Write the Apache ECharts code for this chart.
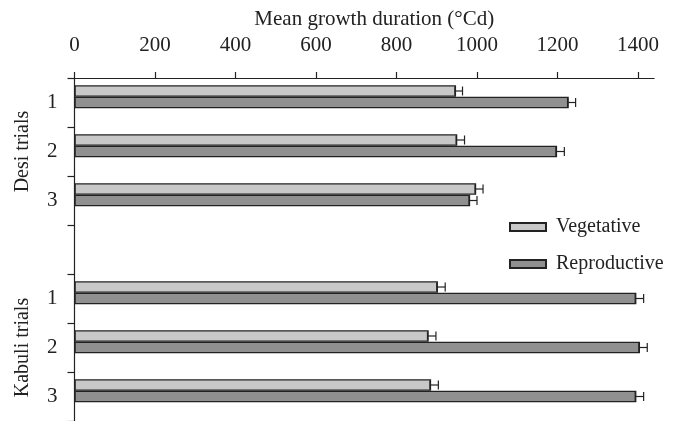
<!DOCTYPE html>
<html>
<head>
<meta charset="utf-8">
<script src="https://cdn.jsdelivr.net/npm/echarts@6/dist/echarts.min.js"></script>
<style>
html,body{margin:0;padding:0;background:#fff;}
#chart{width:675px;height:421px;}
</style>
</head>
<body>
<div id="chart"></div>
<script>
// ---- data ----
var trialLabels = ['1', '2', '3', '', '1', '2', '3'];
var groupLabels = ['', 'Desi trials', '', '', '', 'Kabuli trials', ''];
var xTicks = [0, 200, 400, 600, 800, 1000, 1200, 1400];
var vegetative   = [948, 951, 998, null, 903, 880, 886];
var reproductive = [1228, 1199, 983, null, 1396, 1405, 1396];
var vegErrLow  = [3, 3, 3, null, 3, 3, 3];
var vegErrHigh = [16, 18, 17, null, 18, 18, 18];
var repErrLow  = [3, 3, 3, null, 3, 3, 3];
var repErrHigh = [17, 18, 17, null, 18, 18, 18];

var FONT = 'Liberation Serif';
var INK = '#222';
var BAR_W = 11.5;

function errData(vals, lo, hi) {
  var out = [];
  for (var i = 0; i < vals.length; i++) {
    if (vals[i] == null) continue;
    out.push([i, vals[i] - lo[i], vals[i] + hi[i]]);
  }
  return out;
}
function errRender(offset) {
  return function (params, api) {
    var cat = api.value(0), lo = api.value(1), hi = api.value(2);
    var p1 = api.coord([lo, cat]);
    var p2 = api.coord([hi, cat]);
    var y = p1[1] + offset;
    var h = 4.5;
    var st = { stroke: INK, lineWidth: 1.2 };
    return {
      type: 'group',
      children: [
        { type: 'line', shape: { x1: p1[0], y1: y, x2: p2[0], y2: y }, style: st },
        { type: 'line', shape: { x1: p1[0], y1: y - h, x2: p1[0], y2: y + h }, style: st },
        { type: 'line', shape: { x1: p2[0], y1: y - h, x2: p2[0], y2: y + h }, style: st }
      ]
    };
  };
}

var chart = echarts.init(document.getElementById('chart'), null, { renderer: 'canvas' });
chart.setOption({
  animation: false,
  backgroundColor: '#fff',
  textStyle: { fontFamily: FONT, color: INK },
  grid: { left: 74.5, top: 78, width: 579.6, height: 344 },
  legend: {
    orient: 'vertical',
    left: 504,
    top: 212,
    itemWidth: 36,
    itemHeight: 8,
    itemGap: 17,
    icon: 'rect',
    data: ['Vegetative', 'Reproductive'],
    textStyle: { fontFamily: FONT, fontSize: 20, color: INK, padding: [0, 0, 0, 5] }
  },
  xAxis: {
    type: 'value',
    position: 'top',
    min: 0,
    max: 1440,
    interval: 200,
    name: 'Mean growth duration (°Cd)',
    nameLocation: 'middle',
    nameGap: 47,
    nameTextStyle: { fontFamily: FONT, fontSize: 21, color: INK, padding: [0, 0, 0, 20] },
    axisLine: { show: true, lineStyle: { color: INK, width: 1.2 } },
    axisTick: { show: true, length: 6, lineStyle: { color: INK, width: 1.2 }, customValues: xTicks },
    axisLabel: {
      fontFamily: FONT, fontSize: 21, color: INK, margin: 22, customValues: xTicks,
      formatter: function (v) { return String(v); }
    },
    splitLine: { show: false }
  },
  yAxis: [
    {
      type: 'category',
      inverse: true,
      data: trialLabels,
      axisLine: { show: true, lineStyle: { color: INK, width: 1.2 } },
      axisTick: { show: true, length: 7, lineStyle: { color: INK, width: 1.2 } },
      axisLabel: { fontFamily: FONT, fontSize: 21, color: INK, margin: 17, interval: 0 }
    },
    {
      type: 'category',
      inverse: true,
      position: 'left',
      data: groupLabels,
      axisLine: { show: false },
      axisTick: { show: false },
      axisLabel: { fontFamily: FONT, fontSize: 20, color: INK, margin: 42, interval: 0, rotate: 90 }
    }
  ],
  series: [
    {
      name: 'Vegetative',
      type: 'bar',
      yAxisIndex: 0,
      data: vegetative,
      barWidth: BAR_W,
      barGap: '0%',
      itemStyle: { color: '#c8c8c8', borderColor: INK, borderWidth: 1.3 }
    },
    {
      name: 'Reproductive',
      type: 'bar',
      yAxisIndex: 0,
      data: reproductive,
      barWidth: BAR_W,
      barGap: '0%',
      itemStyle: { color: '#909090', borderColor: INK, borderWidth: 1.3 }
    },
    {
      name: 'spacer',
      type: 'bar',
      yAxisIndex: 0,
      data: trialLabels.map(function () { return null; }),
      barWidth: BAR_W,
      barGap: '0%',
      itemStyle: { color: 'transparent' }
    },
    {
      name: 'vegErr',
      type: 'custom',
      yAxisIndex: 0,
      data: errData(vegetative, vegErrLow, vegErrHigh),
      encode: { x: [1, 2], y: 0 },
      renderItem: errRender(-BAR_W),
      z: 5
    },
    {
      name: 'repErr',
      type: 'custom',
      yAxisIndex: 0,
      data: errData(reproductive, repErrLow, repErrHigh),
      encode: { x: [1, 2], y: 0 },
      renderItem: errRender(0),
      z: 5
    }
  ]
});
</script>
</body>
</html>
